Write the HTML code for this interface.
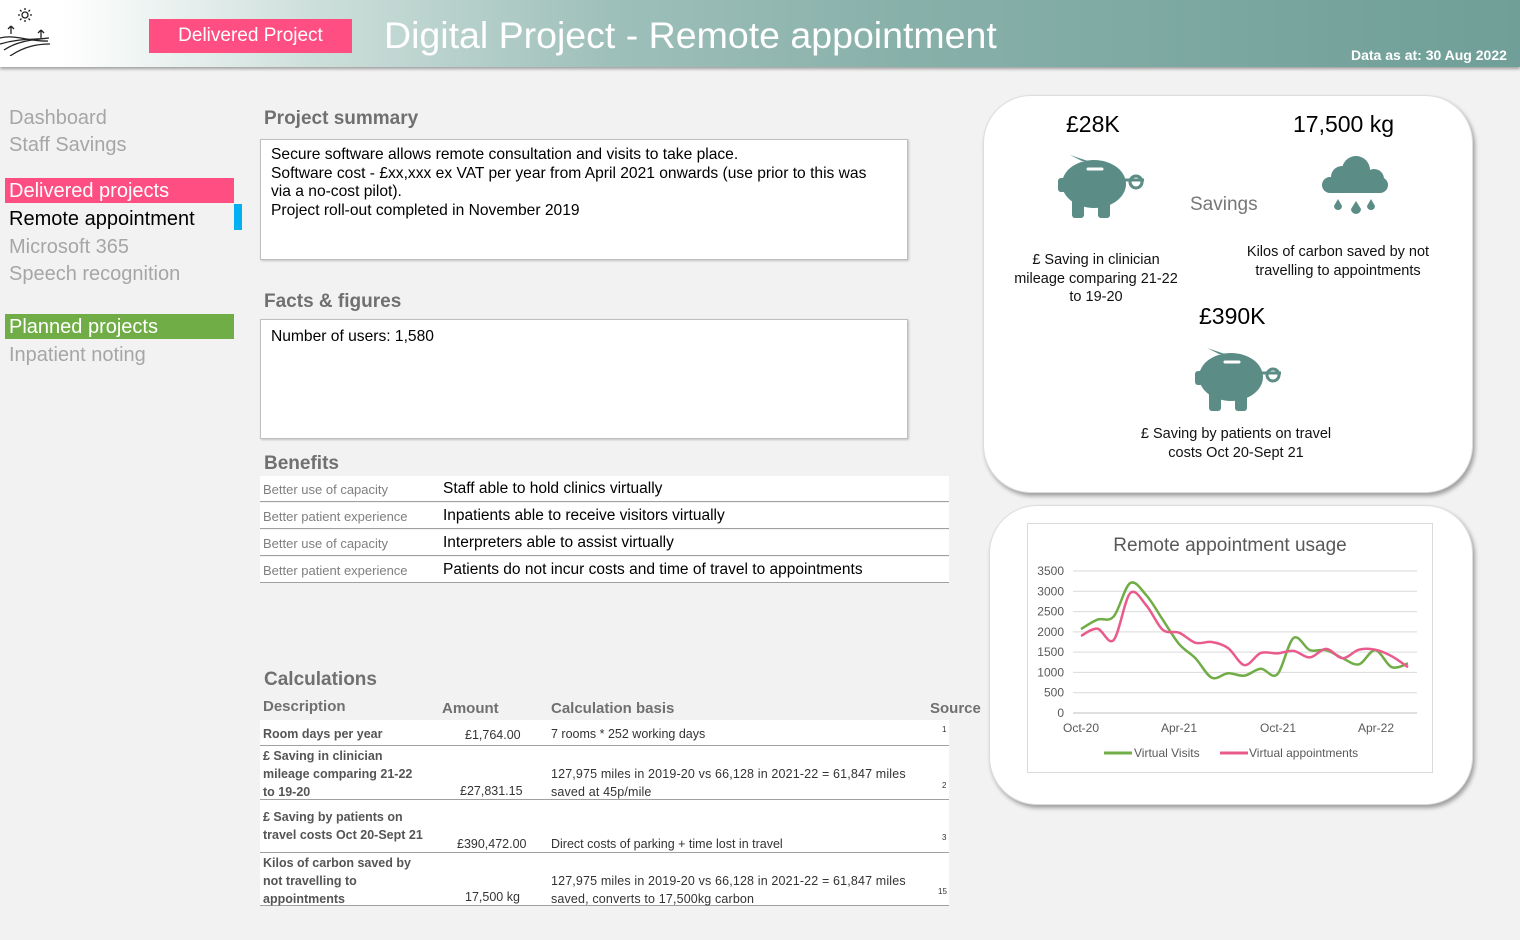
<!DOCTYPE html>
<html><head><meta charset="utf-8"><style>
*{margin:0;padding:0;box-sizing:border-box}
body{width:1520px;height:940px;background:#f2f2f2;font-family:"Liberation Sans",sans-serif;position:relative;overflow:hidden;color:#000}
.a{position:absolute;white-space:nowrap}
#hdr{position:absolute;left:0;top:0;width:1520px;height:67px;background:linear-gradient(90deg,#fff 0%,#fff 4%,#cfe0dc 20%,#9fc0ba 40%,#87b0a9 60%,#6f9f98 100%);box-shadow:0 2px 3px rgba(0,0,0,.35)}
.nav{font-size:20px;color:#a6a6a6}
.h2{font-size:19px;font-weight:bold;color:#707070}
.box{position:absolute;background:#fff;border:1px solid #bfbfbf;box-shadow:1px 1px 2px rgba(0,0,0,.2);font-size:15.6px;line-height:18.5px;padding:6px 10px}
.brow{position:absolute;left:260px;width:689px;height:26px;background:#fff;border-bottom:1px solid #a0a0a0}
.brow .l{position:absolute;left:3px;top:6px;font-size:13px;color:#7f7f7f}
.brow .r{position:absolute;left:183px;top:4px;font-size:15.5px}
.card{position:absolute;background:#fff;border-radius:48px;box-shadow:2px 3px 4px rgba(0,0,0,.35);border:1px solid #ddd}
.ct{font-size:14.5px;color:#111;text-align:center;line-height:18.5px}
.cr{position:absolute;left:260px;width:689px;background:#fff;border-bottom:1px solid #a0a0a0;font-size:12.5px;color:#333}
.cr .d{position:absolute;left:3px;font-weight:bold;color:#555;line-height:18px}
</style></head><body>
<div id="hdr">
<svg class="a" style="left:0;top:4px" width="52" height="52" viewBox="0 0 52 52" fill="none" stroke="#222" stroke-width="1.3">
<circle cx="25" cy="11" r="3"/><path d="M25 4v2M25 16v2M18 11h2M30 11h2M20 6l1.5 1.5M30 6l-1.5 1.5M20 16l1.5-1.5M30 16l-1.5-1.5"/>
<path d="M11 30v-8M11 22l-3 3M11 22l3 3M41 34v-8M41 26l-3 3M41 26l3 3"/>
<path d="M0 34c15-4 30 4 48 3M0 40c20-6 35-4 48-6M4 46c15-10 30-10 45-12M10 52c15-10 28-12 40-12"/></svg>
<div class="a" style="left:149px;top:19px;width:203px;height:34px;background:#ff4f82;color:#fff;font-size:19px;text-align:center;line-height:34px">Delivered Project</div>
<div class="a" style="left:384px;top:14px;font-size:37.5px;color:#fff">Digital Project - Remote appointment</div>
<div class="a" style="left:1351px;top:47px;font-size:14px;font-weight:bold;color:#fff">Data as at: 30 Aug 2022</div>
</div>

<div class="a nav" style="left:9px;top:107px">Dashboard</div>
<div class="a nav" style="left:9px;top:134px">Staff Savings</div>
<div class="a" style="left:5px;top:178px;width:229px;height:25px;background:#ff4f82;color:#fff;font-size:20px;padding-left:4px;line-height:26px">Delivered projects</div>
<div class="a" style="left:9px;top:208px;font-size:20px;color:#000">Remote appointment</div>
<div class="a" style="left:234px;top:204px;width:8px;height:26px;background:#00b0f0"></div>
<div class="a nav" style="left:9px;top:236px">Microsoft 365</div>
<div class="a nav" style="left:9px;top:263px">Speech recognition</div>
<div class="a" style="left:5px;top:314px;width:229px;height:25px;background:#70ad47;color:#fff;font-size:20px;padding-left:4px;line-height:26px">Planned projects</div>
<div class="a nav" style="left:9px;top:344px">Inpatient noting</div>

<div class="a h2" style="left:264px;top:108px">Project summary</div>
<div class="box" style="left:260px;top:139px;width:648px;height:121px">Secure software allows remote consultation and visits to take place.<br>Software cost - £xx,xxx ex VAT per year from April 2021 onwards (use prior to this was<br>via a no-cost pilot).<br>Project roll-out completed in November 2019</div>
<div class="a h2" style="left:264px;top:291px">Facts &amp; figures</div>
<div class="box" style="left:260px;top:319px;width:648px;height:120px;padding-top:8px">Number of users: 1,580</div>
<div class="a h2" style="left:264px;top:453px">Benefits</div>
<div class="brow" style="top:476px"><span class="l">Better use of capacity</span><span class="r">Staff able to hold clinics virtually</span></div>
<div class="brow" style="top:503px"><span class="l">Better patient experience</span><span class="r">Inpatients able to receive visitors virtually</span></div>
<div class="brow" style="top:530px"><span class="l">Better use of capacity</span><span class="r">Interpreters able to assist virtually</span></div>
<div class="brow" style="top:557px"><span class="l">Better patient experience</span><span class="r">Patients do not incur costs and time of travel to appointments</span></div>

<div class="a h2" style="left:264px;top:669px">Calculations</div>
<div class="a" style="left:263px;top:698px;font-size:15px;font-weight:bold;color:#707070">Description</div>
<div class="a" style="left:442px;top:700px;font-size:15px;font-weight:bold;color:#707070">Amount</div>
<div class="a" style="left:551px;top:700px;font-size:15px;font-weight:bold;color:#707070">Calculation basis</div>
<div class="a" style="left:930px;top:700px;font-size:15px;font-weight:bold;color:#707070">Source</div>
<div class="cr" style="top:720px;height:26px"><span class="d" style="top:5px">Room days per year</span><span class="a" style="left:205px;top:8px">£1,764.00</span><span class="a" style="left:291px;top:7px">7 rooms * 252 working days</span><span class="a" style="left:682px;top:5px;font-size:8px">1</span></div>
<div class="cr" style="top:746px;height:54px"><span class="d" style="top:1px">£ Saving in clinician<br>mileage comparing 21-22<br>to 19-20</span><span class="a" style="left:200px;top:38px">£27,831.15</span><span class="a" style="left:291px;top:19px;line-height:18px;letter-spacing:.15px">127,975 miles in 2019-20 vs 66,128 in 2021-22 = 61,847 miles<br>saved at 45p/mile</span><span class="a" style="left:682px;top:35px;font-size:8px">2</span></div>
<div class="cr" style="top:800px;height:53px"><span class="d" style="top:8px">£ Saving by patients on<br>travel costs Oct 20-Sept 21</span><span class="a" style="left:197px;top:37px">£390,472.00</span><span class="a" style="left:291px;top:37px">Direct costs of parking + time lost in travel</span><span class="a" style="left:682px;top:33px;font-size:8px">3</span></div>
<div class="cr" style="top:853px;height:53px"><span class="d" style="top:1px">Kilos of carbon saved by<br>not travelling to<br>appointments</span><span class="a" style="left:205px;top:37px">17,500 kg</span><span class="a" style="left:291px;top:19px;line-height:18px;letter-spacing:.15px">127,975 miles in 2019-20 vs 66,128 in 2021-22 = 61,847 miles<br>saved, converts to 17,500kg carbon</span><span class="a" style="left:678px;top:34px;font-size:8px">15</span></div>

<div class="card" style="left:983px;top:95px;width:490px;height:398px"></div>
<div class="a" style="left:1066px;top:111px;font-size:23px">£28K</div>
<div class="a" style="left:1293px;top:111px;font-size:23px">17,500 kg</div>
<div class="a" style="left:1190px;top:194px;font-size:19px;color:#777">Savings</div>
<div class="a" style="left:1199px;top:303px;font-size:23px">£390K</div>
<svg class="a" style="left:1058px;top:152px" width="88" height="68" viewBox="0 0 88 68" fill="#5b8c85"><path d="M12 3l12 6 6 0z"/><ellipse cx="36" cy="32" rx="32" ry="24"/><rect x="14" y="45" width="12" height="21" rx="3"/><rect x="40" y="45" width="12" height="21" rx="3"/><rect x="0" y="26" width="8" height="14" rx="3"/><circle cx="78" cy="30" r="6" fill="none" stroke="#5b8c85" stroke-width="3"/><path d="M66 28h20" stroke="#5b8c85" stroke-width="3"/><path d="M30 17h14" stroke="#fff" stroke-width="3" stroke-linecap="round" fill="none"/></svg>
<svg class="a" style="left:1195px;top:345px" width="88" height="68" viewBox="0 0 88 68" fill="#5b8c85"><path d="M12 3l12 6 6 0z"/><ellipse cx="36" cy="32" rx="32" ry="24"/><rect x="14" y="45" width="12" height="21" rx="3"/><rect x="40" y="45" width="12" height="21" rx="3"/><rect x="0" y="26" width="8" height="14" rx="3"/><circle cx="78" cy="30" r="6" fill="none" stroke="#5b8c85" stroke-width="3"/><path d="M66 28h20" stroke="#5b8c85" stroke-width="3"/><path d="M30 17h14" stroke="#fff" stroke-width="3" stroke-linecap="round" fill="none"/></svg>
<svg class="a" style="left:1320px;top:155px" width="70" height="64" viewBox="0 0 70 64" fill="#5b8c85"><circle cx="22" cy="22" r="11"/><circle cx="36" cy="15" r="14"/><circle cx="54" cy="24" r="10"/><rect x="2" y="22" width="66" height="16" rx="8"/><path d="M18 44l4 7a4 4 0 1 1-8 0z"/><path d="M36 46l5 8a5 5 0 1 1-10 0z"/><path d="M51 44l4 7a4 4 0 1 1-8 0z"/></svg>
<div class="a ct" style="left:1008px;top:251px;width:176px;white-space:normal">£ Saving in clinician mileage comparing 21-22 to 19-20</div>
<div class="a ct" style="left:1238px;top:243px;width:200px;white-space:normal">Kilos of carbon saved by not travelling to appointments</div>
<div class="a ct" style="left:1126px;top:425px;width:220px;white-space:normal">£ Saving by patients on travel costs Oct 20-Sept 21</div>

<div class="card" style="left:989px;top:505px;width:484px;height:300px"></div>
<div class="a" style="left:1027px;top:523px;width:406px;height:250px;border:1px solid #d9d9d9;background:#fff"></div>
<svg class="a" style="left:0;top:0" width="1520" height="940" font-family="Liberation Sans,sans-serif">
<text x="1230" y="551" text-anchor="middle" font-size="19" fill="#595959">Remote appointment usage</text>
<g id="grid" stroke="#d9d9d9" stroke-width="1"></g>
<g id="yl" font-size="12" fill="#595959" text-anchor="end"></g>
<line x1="1073" y1="713" x2="1417" y2="713" stroke="#bfbfbf"/>
<g font-size="12" fill="#595959" text-anchor="middle"><text x="1081" y="732">Oct-20</text><text x="1179" y="732">Apr-21</text><text x="1278" y="732">Oct-21</text><text x="1376" y="732">Apr-22</text></g>
<path id="g" fill="none" stroke="#70ad47" stroke-width="2.5"/>
<path id="p" fill="none" stroke="#ea5b8d" stroke-width="2.5"/>
<line x1="1104" y1="753" x2="1132" y2="753" stroke="#70ad47" stroke-width="3"/><text x="1134" y="757" font-size="12" fill="#595959">Virtual Visits</text>
<line x1="1220" y1="753" x2="1248" y2="753" stroke="#ea5b8d" stroke-width="3"/><text x="1249" y="757" font-size="12" fill="#595959">Virtual appointments</text>
</svg>
<script>
var ns="http://www.w3.org/2000/svg",Y=v=>713-v*142/3500,X=i=>1081+i*16.35;
var g=document.getElementById("grid"),yl=document.getElementById("yl");
for(var v=500;v<=3500;v+=500){var l=document.createElementNS(ns,"line");l.setAttribute("x1",1073);l.setAttribute("x2",1417);l.setAttribute("y1",Y(v));l.setAttribute("y2",Y(v));g.appendChild(l);}
for(var v=0;v<=3500;v+=500){var t=document.createElementNS(ns,"text");t.setAttribute("x",1064);t.setAttribute("y",Y(v)+4);t.textContent=v;yl.appendChild(t);}
function path(d){var p=d.map((v,i)=>[X(i),Y(v)]),s="M"+p[0][0]+" "+p[0][1];for(var i=0;i<p.length-1;i++){var a=p[i-1]||p[i],b=p[i],c=p[i+1],e=p[i+2]||c;s+="C"+(b[0]+(c[0]-a[0])/6)+" "+(b[1]+(c[1]-a[1])/6)+" "+(c[0]-(e[0]-b[0])/6)+" "+(c[1]-(e[1]-b[1])/6)+" "+c[0]+" "+c[1];}return s;}
document.getElementById("g").setAttribute("d",path([2070,2300,2380,3200,2900,2300,1700,1350,870,980,920,1090,950,1850,1550,1550,1350,1200,1550,1130,1220]));
document.getElementById("p").setAttribute("d",path([1900,2080,1800,2950,2650,2050,1980,1730,1750,1600,1180,1480,1470,1530,1370,1580,1350,1560,1560,1400,1130]));
</script>
</body></html>
